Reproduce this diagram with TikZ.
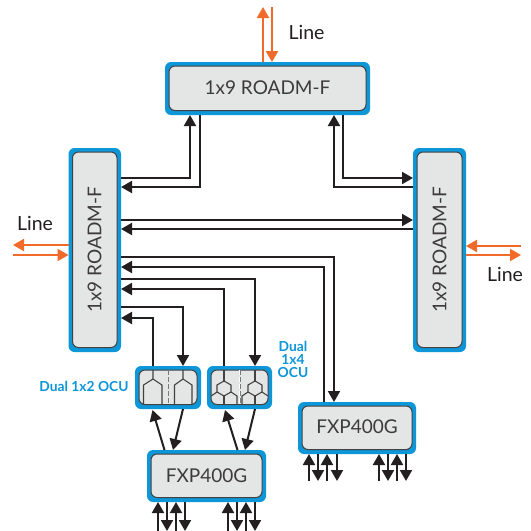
\documentclass[tikz,border=0pt]{standalone}
\usepackage{fontspec}
\setmainfont{Lato}
\usetikzlibrary{arrows.meta}
\definecolor{bl}{HTML}{0D96D8}
\definecolor{gr}{HTML}{E4E5E5}
\definecolor{dk}{HTML}{231F20}
\definecolor{orng}{HTML}{F26A2A}
\tikzset{x=1pt,y=-1pt,
 wire/.style={draw=dk,line width=2pt},
 arw/.style={wire,-{Triangle[length=11pt,width=12pt]}},
 oarw/.style={draw=orng,line width=2pt,-{Triangle[length=11pt,width=12pt]}},
 lab/.style={font=\fontsize{19}{20}\selectfont,text=dk!88},
 llab/.style={font=\fontsize{19.5}{20}\selectfont,text=dk},
 blab/.style={font=\bfseries\fontsize{13.8}{14}\selectfont,text=bl,align=center},
 hair/.style={draw=dk!85,line width=1.1pt},
 boxframe/.style={inner sep=0pt,outer sep=0pt,rectangle},
}
\newcommand{\bx}[5]{% name x1 y1 x2 y2
 \path[fill=bl,rounded corners=6pt] (#2,#3) rectangle (#4,#5);
 \path[fill=gr,draw=dk!85,line width=1pt,rounded corners=6pt] (#2+4,#3+4) rectangle (#4-4,#5-4.5);
 \pgfmathsetmacro{\bw}{#4-#2}\pgfmathsetmacro{\bh}{#5-#3}
 \node[boxframe,minimum width=\bw pt,minimum height=\bh pt] (#1) at ({(#2+#4)/2},{(#3+#5)/2}) {};
}
\begin{document}
\begin{tikzpicture}
\useasboundingbox (0,0) rectangle (531,531);
\path[fill=white] (0,0) rectangle (531,531);
\bx{T}{165}{62}{370}{115}
\bx{L}{68.5}{148}{121}{352}
\bx{R}{413}{148}{466}{352}
\bx{FR}{298}{402}{416}{454}
\bx{FB}{147}{450}{266}{502}
\bx{OA}{135}{366}{201}{409}
\bx{OB}{207}{366}{272}{409}
\node[lab] (t1) at (267.5,88) {1x9 ROADM-F};
\node[lab,rotate=90] (t2) at (94.5,250) {1x9 ROADM-F};
\node[lab,rotate=90] (t3) at (439.5,250) {1x9 ROADM-F};
\node[lab] (t4) at (357,427) {FXP400G};
\node[lab] (t5) at (206.5,476) {FXP400G};
\node[llab] (l1) at (306.5,32) {Line};
\node[llab] (l2) at (35,223) {Line};
\node[llab] (l3) at (505,274) {Line};
\node[blab] (b1) at (84,386) {Dual 1x2 OCU};
\node[blab] (b2) at (293,359) {Dual\\[-1pt]1x4\\[-1pt]OCU};
% free ends
\coordinate (top) at (0,7);
\coordinate (lf) at (13,0);
\coordinate (rt) at (521,0);
\coordinate (bot) at (0,531);
\coordinate (bot2) at (0,481);
% orange
\draw[oarw] (T.north -| 263,0) -- (263,0 |- top);
\draw[oarw] (272,0 |- top) -- (T.north -| 272,0);
\draw[oarw] (L.west |- 0,245) -- (lf |- 0,245);
\draw[oarw] (lf |- 0,255) -- (L.west |- 0,255);
\draw[oarw] (rt |- 0,246) -- (R.east |- 0,246);
\draw[oarw] (R.east |- 0,255) -- (rt |- 0,255);
% black
\draw[arw] (L.east |- 0,178) -| (T.south -| 190,0);
\draw[arw] (T.south -| 200,0) |- (L.east |- 0,187);
\draw[arw] (R.west |- 0,187) -| (T.south -| 334,0);
\draw[arw] (T.south -| 343,0) |- (R.west |- 0,178);
\draw[arw] (L.east |- 0,220) -- (R.west |- 0,220);
\draw[arw] (R.west |- 0,229) -- (L.east |- 0,229);
\draw[arw] (L.east |- 0,257) -| (FR.north -| 334,0);
\draw[arw] (FR.north -| 324,0) |- (L.east |- 0,267);
\draw[arw] (L.east |- 0,279) -| (OB.north -| 255,0);
\draw[arw] (OB.north -| 224,0) |- (L.east |- 0,289);
\draw[arw] (L.east |- 0,307) -| (OA.north -| 183,0);
\draw[arw] (OA.north -| 153,0) |- (L.east |- 0,318);
\draw[arw] (FB.north -| 164.5,0) -- (152.5,410);
\draw[arw] (OA.south -| 183,0) -- (FB.north -| 173,0);
\draw[arw] (FB.north -| 237.5,0) -- (225,410);
\draw[arw] (OB.south -| 255,0) -- (FB.north -| 245,0);
\foreach \x in {158,176,228,246} \draw[arw] (\x,0 |- bot) -- (FB.south -| \x,0);
\foreach \x in {167,185,237,255} \draw[arw] (FB.south -| \x,0) -- (\x,0 |- bot);
\foreach \x in {309,327,379,397} \draw[arw] (\x,0 |- bot2) -- (FR.south -| \x,0);
\foreach \x in {318,337,388,406} \draw[arw] (FR.south -| \x,0) -- (\x,0 |- bot2);
% OCU A
\draw[hair] (153,370) -- (153,379) -- (143.5,385) -- (143.5,404.5);
\draw[hair] (153,379) -- (162,385) -- (162,404.5);
\draw[hair] (183,370) -- (183,379) -- (174.5,385) -- (174.5,404.5);
\draw[hair] (183,379) -- (192,385) -- (192,404.5);
\draw[draw=white,line width=1pt,dash pattern=on 5pt off 2pt] (168,370) -- (168,404.5);
\draw[draw=dk!60,line width=0.7pt,dash pattern=on 5pt off 2pt] (168.7,370) -- (168.7,404.5);
% OCU B
\draw[hair] (224,370) -- (224,381) (255,370) -- (255,381);
\draw[hair] (224,381) -- (217,385) -- (217,392) -- (224,396) -- (231,392) -- (231,385) -- cycle;
\draw[hair] (255,381) -- (248,385) -- (248,392) -- (255,396) -- (262,392) -- (262,385) -- cycle;
\draw[hair] (211,396) -- (217,392);
\draw[hair] (231,392) -- (237,396) -- (237,404.5);
\draw[hair] (224,396) -- (224,404.5);
\draw[hair] (248,392) -- (242,396) -- (242,404.5);
\draw[hair] (255,396) -- (255,404.5);
\draw[hair] (262,392) -- (268,396);
\draw[draw=white,line width=1pt,dash pattern=on 5pt off 2pt] (239.5,370) -- (239.5,404.5);
\draw[draw=dk!60,line width=0.7pt,dash pattern=on 5pt off 2pt] (240.2,370) -- (240.2,404.5);
\end{tikzpicture}
\end{document}
